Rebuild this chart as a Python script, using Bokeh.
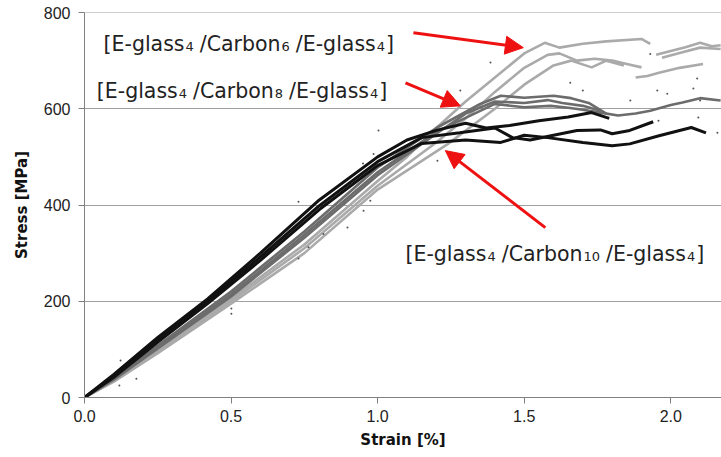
from bokeh.plotting import figure
from bokeh.models import Range1d, Arrow, NormalHead, FixedTicker, Span, Label, CustomJSTickFormatter
from bokeh.embed import file_html
from bokeh.resources import INLINE

# ---------------- data ----------------
# Carbon10 (black)
c10a_x = [0, 0.1, 0.25, 0.42, 0.6, 0.8, 1.0, 1.1, 1.2, 1.3, 1.37, 1.45, 1.55, 1.65, 1.73, 1.79]
c10a_y = [0, 48, 125, 205, 300, 410, 500, 535, 555, 570, 560, 565, 575, 583, 592, 580]
c10b_x = [0, 0.1, 0.25, 0.42, 0.6, 0.8, 1.0, 1.15, 1.28, 1.4, 1.46, 1.52, 1.6, 1.68, 1.76, 1.8, 1.86, 1.94]
c10b_y = [0, 45, 120, 200, 292, 398, 490, 540, 550, 560, 540, 535, 545, 555, 556, 548, 555, 573]
c10c_x = [0, 0.1, 0.25, 0.42, 0.6, 0.8, 1.0, 1.15, 1.3, 1.42, 1.5, 1.58, 1.7, 1.8, 1.86, 1.96, 2.07, 2.12]
c10c_y = [0, 42, 115, 195, 285, 390, 482, 528, 535, 530, 545, 540, 530, 523, 527, 544, 561, 550]

# Carbon8 (mid grey)
c8a_x = [0, 0.1, 0.25, 0.5, 0.75, 1.0, 1.2, 1.35, 1.42, 1.5, 1.6, 1.66, 1.72, 1.78]
c8a_y = [0, 40, 108, 220, 345, 478, 560, 610, 627, 623, 627, 622, 612, 590]
c8b_x = [0, 0.1, 0.25, 0.5, 0.75, 1.0, 1.2, 1.4, 1.5, 1.59, 1.65, 1.7, 1.76, 1.82, 1.88, 1.93, 2.0, 2.04, 2.1, 2.17]
c8b_y = [0, 38, 104, 214, 338, 468, 552, 610, 603, 606, 602, 598, 592, 586, 590, 596, 608, 613, 622, 617]
c8c_x = [0, 0.1, 0.25, 0.5, 0.75, 1.0, 1.2, 1.3, 1.4, 1.5, 1.58, 1.63, 1.7, 1.76]
c8c_y = [0, 37, 102, 210, 332, 462, 548, 590, 615, 612, 618, 612, 606, 596]

# Carbon6 (light grey)
c6a_x = [0, 0.1, 0.25, 0.5, 0.75, 1.0, 1.1, 1.2, 1.3, 1.4, 1.5, 1.57, 1.62, 1.7, 1.78, 1.9, 1.93]
c6a_y = [0, 36, 100, 205, 318, 450, 500, 560, 615, 665, 715, 737, 727, 735, 740, 745, 735]
c6a2_x = [1.95, 2.0, 2.05, 2.1, 2.14, 2.17]
c6a2_y = [712, 720, 728, 737, 730, 732]
c6b_x = [0, 0.1, 0.25, 0.5, 0.75, 1.0, 1.2, 1.3, 1.4, 1.5, 1.58, 1.62, 1.68, 1.74, 1.8, 1.85, 1.9]
c6b_y = [0, 34, 96, 200, 310, 440, 530, 580, 635, 685, 712, 715, 700, 704, 700, 693, 686]
c6b2_x = [1.88, 1.92, 1.96, 2.03, 2.11]
c6b2_y = [665, 668, 675, 685, 693]
c6c_x = [0, 0.1, 0.25, 0.5, 0.75, 1.0, 1.24, 1.4, 1.5, 1.6, 1.66, 1.73, 1.78, 1.84]
c6c_y = [0, 33, 92, 195, 300, 432, 527, 600, 650, 690, 700, 686, 700, 690]
c6c2_x = [1.97, 2.03, 2.1, 2.17]
c6c2_y = [706, 716, 727, 724]

# stray measurement points
dots_x = [1.385, 1.657, 1.282, 2.077, 2.10, 2.094, 2.159, 1.204, 0.986, 0.952, 0.975, 1.93,
          1.70, 1.862, 1.954, 1.988, 2.09, 1.958, 0.123, 0.119, 0.177, 0.501, 0.501,
          0.73, 0.764, 0.73, 0.815, 1.003, 0.95, 0.897]
dots_y = [696, 654, 638, 642, 617, 582, 550, 492, 506, 388, 409, 714,
          638, 617, 638, 631, 663, 575, 77, 25, 39, 174, 185,
          407, 312, 289, 340, 555, 486, 353]

# annotation texts: (main part, subscript) pairs
label_parts = [
    [("[E-glass", "4"), ("/Carbon", "6"), ("/E-glass", "4"), ("]", "")],
    [("[E-glass", "4"), ("/Carbon", "8"), ("/E-glass", "4"), ("]", "")],
    [("[E-glass", "4"), ("/Carbon", "10"), ("/E-glass", "4"), ("]", "")],
]
label_x = [0.065, 0.042, 1.095]          # strain of the left edge
label_y = [735, 637, 299]                # stress at the text baseline

arrow_tail_x = [1.122, 1.095, 1.572]
arrow_tail_y = [758, 654, 353]
arrow_head_x = [1.497, 1.282, 1.231]
arrow_head_y = [727, 606, 513]

y_ticks = [0, 200, 400, 600, 800]
x_ticks = [0.0, 0.5, 1.0, 1.5, 2.0]

# ---------------- figure ----------------
p = figure(width=721, height=457, output_backend="svg", toolbar_location=None,
           x_range=Range1d(0, 2.173), y_range=Range1d(0, 800),
           min_border_left=84, min_border_right=0, min_border_top=12, min_border_bottom=60)
p.outline_line_color = None
p.background_fill_color = "white"
p.border_fill_color = "white"

p.xgrid.grid_line_color = None
p.ygrid.grid_line_color = "#a0a0a0"
p.ygrid.grid_line_width = 1
p.yaxis.ticker = FixedTicker(ticks=y_ticks)
p.xaxis.ticker = FixedTicker(ticks=x_ticks)
p.xaxis.formatter = CustomJSTickFormatter(code="return tick.toFixed(1);")

for ax in (p.xaxis, p.yaxis):
    ax.axis_line_color = "#808080"
    ax.major_tick_line_color = "#808080"
    ax.major_tick_out = 6
    ax.major_tick_in = 0
    ax.minor_tick_line_color = None
    ax.major_label_text_font = "Liberation Sans"
    ax.major_label_text_font_size = "16px"
    ax.major_label_text_color = "#222222"
    ax.axis_label_text_font = "DejaVu Sans"
    ax.axis_label_text_font_style = "bold"
    ax.axis_label_text_font_size = "15px"
    ax.axis_label_text_color = "#111111"

p.xaxis.axis_label = "Strain [%]"
p.yaxis.axis_label = "Stress [MPa]"
p.xaxis.major_label_standoff = 6
p.yaxis.major_label_standoff = 8
p.xaxis.axis_label_standoff = 6
p.yaxis.axis_label_standoff = 10

p.add_layout(Span(location=800, dimension="width", line_color="#a0a0a0", line_width=1))

light = "#aaaaaa"
mid = "#6c6c6c"
dark = "#111111"

for xs, ys in [(c6a_x, c6a_y), (c6a2_x, c6a2_y), (c6b_x, c6b_y), (c6b2_x, c6b2_y), (c6c_x, c6c_y), (c6c2_x, c6c2_y)]:
    p.line(xs, ys, line_color=light, line_width=2.6)
for xs, ys in [(c8a_x, c8a_y), (c8b_x, c8b_y), (c8c_x, c8c_y)]:
    p.line(xs, ys, line_color=mid, line_width=2.6)
for xs, ys in [(c10a_x, c10a_y), (c10b_x, c10b_y), (c10c_x, c10c_y)]:
    p.line(xs, ys, line_color=dark, line_width=3)

p.scatter(dots_x, dots_y, size=2, color="#555555", line_color=None)

# DejaVu Sans advance widths (em) to lay out the text pieces in sequence
EM = {"[": 0.390, "]": 0.390, "E": 0.632, "-": 0.361, "g": 0.635, "l": 0.278, "a": 0.613,
      "s": 0.521, "/": 0.337, "C": 0.698, "r": 0.411, "b": 0.635, "o": 0.612, "n": 0.634}
MAIN_PX, SUB_PX = 20.5, 13


def width(s, size):
    return sum(EM.get(c, 0.636) for c in s) * size


for parts, lx, ly in zip(label_parts, label_x, label_y):
    off = 0.0
    for i, (main, sub) in enumerate(parts):
        p.add_layout(Label(x=lx, y=ly, x_offset=off, y_offset=0, text=main,
                           text_font="DejaVu Sans", text_font_size=f"{MAIN_PX}px", text_color="#222222",
                           text_baseline="alphabetic", text_align="left"))
        off += width(main, MAIN_PX) + 1
        if sub:
            p.add_layout(Label(x=lx, y=ly, x_offset=off, y_offset=-3, text=sub,
                               text_font="DejaVu Sans", text_font_size=f"{SUB_PX}px", text_color="#222222",
                               text_baseline="alphabetic", text_align="left"))
            off += width(sub, SUB_PX) + (1 if parts[i + 1][0] == "]" else 6)

for tx, ty, hx, hy in zip(arrow_tail_x, arrow_tail_y, arrow_head_x, arrow_head_y):
    p.add_layout(Arrow(x_start=tx, y_start=ty, x_end=hx, y_end=hy,
                       line_color="#ee1111", line_width=3,
                       end=NormalHead(size=18, fill_color="#ee1111", line_color="#ee1111")))

open("out.html", "w").write(file_html(p, INLINE))
